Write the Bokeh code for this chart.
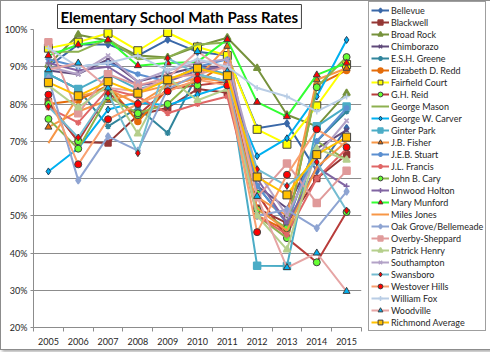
from bokeh.plotting import figure
from bokeh.models import (Range1d, FixedTicker, NumeralTickFormatter, Legend, LegendItem, Title)
from bokeh.embed import file_html
from bokeh.resources import INLINE

years = [2005, 2006, 2007, 2008, 2009, 2010, 2011, 2012, 2013, 2014, 2015]

schools = ["Bellevue", "Blackwell", "Broad Rock", "Chimborazo", "E.S.H. Greene",
           "Elizabeth D. Redd", "Fairfield Court", "G.H. Reid", "George Mason",
           "George W. Carver", "Ginter Park", "J.B. Fisher", "J.E.B. Stuart",
           "J.L. Francis", "John B. Cary", "Linwood Holton", "Mary Munford",
           "Miles Jones", "Oak Grove/Bellemeade", "Overby-Sheppard", "Patrick Henry",
           "Southampton", "Swansboro", "Westover Hills", "William Fox", "Woodville",
           "Richmond Average"]

bellevue = [90, 96, 96, 93, 97.3, 94, 93, 73.5, 74.8, 62, 73.5]
blackwell = [80.7, 69.8, 69.5, 77, 79, 84, 83, 52, 48, 60, 66.4]
broad_rock = [90.5, 98.6, 97, 93, 92.5, 95.5, 97.8, 89.6, 77.1, 74, 82.9]
chimborazo = [89, 88, 92, 86, 88, 90, 90, 58, 52, 68, 73]
esh_greene = [88, 84, 74, 79, 72.2, 88, 86, 58, 48, 70, 78]
ed_redd = [80, 81, 85, 75.3, 84, 86, 91, 50, 46, 85, 89]
fairfield = [95, 96.6, 99, 94.3, 99.2, 95.3, 93, 73.2, 69.2, 79.5, 90.6]
gh_reid = [80, 70, 83, 77, 84, 85, 86, 56, 44, 37.5, 51]
george_mason = [94, 94, 97.5, 92, 92.5, 96, 96.5, 50, 44, 70, 65]
gw_carver = [61.9, 68.1, 78.5, 80.5, 79.6, 82.5, 85, 66, 70.8, 82, 97.2]
ginter_park = [88, 84, 88, 84, 86, 90, 88, 36.6, 36.5, 74, 79.3]
jb_fisher = [73.8, 78, 81, 83, 85, 87, 95.5, 55, 50, 86.5, 89.6]
jeb_stuart = [92, 90, 91, 88, 86, 90, 92, 58, 48, 70, 78.9]
jl_francis = [79, 75, 84, 82, 77.5, 80, 82, 50, 45, 60, 68]
john_cary = [76, 68, 82, 77.5, 80, 87.4, 86, 51.7, 46.7, 84.5, 92.6]
linwood_holton = [91, 89, 90, 85, 86, 89, 90, 60, 48, 63, 57.9]
mary_munford = [93, 95.9, 97.2, 90.3, 91, 91.3, 97.3, 80.5, 76.6, 87.8, 91]
miles_jones = [69.5, 82, 84, 80, 85, 87, 86, 52, 46, 63, 70]
oak_grove = [87, 59.5, 71.3, 67.5, 84, 88, 86, 50, 51.6, 46.7, 56.5]
overby = [96.6, 77.5, 88, 85, 87, 88, 90, 55, 64, 53.4, 62.1]
patrick_henry = [85, 79, 85, 72, 87, 81, 84, 50, 40.9, 68, 65]
southampton = [90, 88, 93, 86, 89, 91, 92, 62, 50, 66, 75.5]
swansboro = [79.3, 71, 82.9, 66.8, 92.3, 88, 86, 62.5, 58, 64.4, 51.4]
westover = [82.5, 63.8, 75.9, 80, 83.4, 86.5, 85, 45.6, 61, 73.2, 68.4]
william_fox = [95, 90, 91, 93, 89, 92, 90, 84.3, 82, 78, 82]
woodville = [89.2, 91, 84.3, 83.4, 87, 94.1, 88.7, 55.2, 36.1, 40, 29.7]
richmond_avg = [85.8, 82.2, 86, 82.9, 86.5, 89.6, 87.6, 60.4, 55.6, 66.4, 71.1]

series = [bellevue, blackwell, broad_rock, chimborazo, esh_greene, ed_redd, fairfield,
          gh_reid, george_mason, gw_carver, ginter_park, jb_fisher, jeb_stuart,
          jl_francis, john_cary, linwood_holton, mary_munford, miles_jones, oak_grove,
          overby, patrick_henry, southampton, swansboro, westover, william_fox,
          woodville, richmond_avg]

y_ticks = [0.2, 0.3, 0.4, 0.5, 0.6, 0.7, 0.8, 0.9, 1.0]

# style: (line color, marker, marker fill, marker edge, marker size)
styles = [
    ("#3A68A8", "diamond", "#3A68A8", "#3A68A8", 7),
    ("#953735", "square", "#953735", "#953735", 6),
    ("#76923C", "triangle", "#76923C", "#76923C", 7),
    ("#604A7B", "x", "#604A7B", "#604A7B", 6),
    ("#31859C", "asterisk", "#31859C", "#31859C", 6),
    ("#E46C0A", "circle", "#E46C0A", "#E46C0A", 6),
    ("#FFFF00", "square", "#FFFF00", "#404040", 8),
    ("#B83C3A", "circle", "#66FF33", "#404040", 7),
    ("#8DB04F", None, None, None, 0),
    ("#00B0F0", "diamond", "#00B0F0", "#1F3F5F", 7),
    ("#4BACC6", "square", "#4BACC6", "#4BACC6", 7),
    ("#F79646", "triangle", "#E46C0A", "#404040", 7),
    ("#5B8FD0", "asterisk", "#5B8FD0", "#5B8FD0", 6),
    ("#E06666", "asterisk", "#E06666", "#E06666", 6),
    ("#8DB34A", "circle", "#66FF33", "#404040", 7),
    ("#8064A2", "cross", "#8064A2", "#8064A2", 6),
    ("#33FF33", "triangle", "#FF0000", "#404040", 7),
    ("#F79646", None, None, None, 0),
    ("#8EA4D2", "diamond", "#8EA4D2", "#8EA4D2", 7),
    ("#E09A9A", "square", "#E09A9A", "#E09A9A", 7),
    ("#B5CF8C", "triangle", "#B5CF8C", "#B5CF8C", 7),
    ("#B3A2C7", "x", "#B3A2C7", "#B3A2C7", 6),
    ("#74BCD1", "diamond", "#FF0000", "#404040", 7),
    ("#F9A070", "circle", "#FF0000", "#404040", 7),
    ("#B9CDE5", "cross", "#B9CDE5", "#B9CDE5", 6),
    ("#E6A5A5", "triangle", "#00B0F0", "#404040", 7),
    ("#FFC000", "square", "#FFC000", "#404040", 8),
]

p = figure(frame_width=328, frame_height=298, output_backend="svg", toolbar_location=None,
           x_range=Range1d(2004.5, 2015.5), y_range=Range1d(0.2, 1.0),
           min_border_left=30, min_border_right=4, min_border_top=28,
           min_border_bottom=22)
p.styles = {"border": "1px solid #8c8c8c", "box-shadow": "2px 2px 3px #b0b0b0"}
p.outline_line_color = None
p.background_fill_color = "white"
p.border_fill_color = "white"

p.xgrid.grid_line_color = None
p.ygrid.grid_line_color = "#8C8C8C"
p.ygrid.grid_line_width = 1
p.ygrid.ticker = FixedTicker(ticks=y_ticks)

p.yaxis.ticker = FixedTicker(ticks=y_ticks)
p.yaxis.formatter = NumeralTickFormatter(format="0%")
p.xaxis.ticker = FixedTicker(ticks=years, minor_ticks=[y - 0.5 for y in years] + [2015.5])
for ax in (p.xaxis, p.yaxis):
    ax.axis_line_color = "#8C8C8C"
    ax.major_label_text_font = "Lato"
    ax.major_label_text_font_size = "9px"
    ax.major_label_text_color = "#262626"
    ax.major_tick_line_color = "#8C8C8C"
p.xaxis.major_tick_out = 0
p.xaxis.major_tick_in = 0
p.xaxis.minor_tick_out = 4
p.xaxis.minor_tick_in = 0
p.xaxis.minor_tick_line_color = "#8C8C8C"
p.xaxis.major_label_standoff = 6
p.yaxis.major_tick_out = 3
p.yaxis.major_tick_in = 0
p.yaxis.minor_tick_line_color = None
p.yaxis.major_label_standoff = 3

items = []
for name, vals, (lc, mk, fc, ec, ms) in zip(schools, series, styles):
    yv = [v / 100 for v in vals]
    rs = [p.line(years, yv, line_color=lc, line_width=2)]
    if mk is not None:
        rs.append(p.scatter(years, yv, marker=mk, size=ms, fill_color=fc,
                            line_color=ec, line_width=1 if ec in ("#404040", "#1F3F5F") else 1.5))
    items.append(LegendItem(label=name, renderers=rs))

legend = Legend(items=items, location=(7, -4), orientation="vertical",
                border_line_color="#404040", border_line_width=1,
                background_fill_color="white", background_fill_alpha=1,
                padding=2, spacing=0, margin=0, label_height=12, glyph_height=12,
                glyph_width=18, label_standoff=2, label_text_font="Lato",
                label_text_font_size="9px", label_text_color="#262626")
p.add_layout(legend, "right")

title = Title(text="Elementary School Math Pass Rates", align="left", offset=24,
              text_font="Lato", text_font_style="bold", text_font_size="15px",
              text_color="black", border_line_color="#404040", border_line_width=1,
              background_fill_color="white", padding=3, standoff=2)
p.add_layout(title, "above")

open("out.html", "w").write(file_html(p, INLINE))
